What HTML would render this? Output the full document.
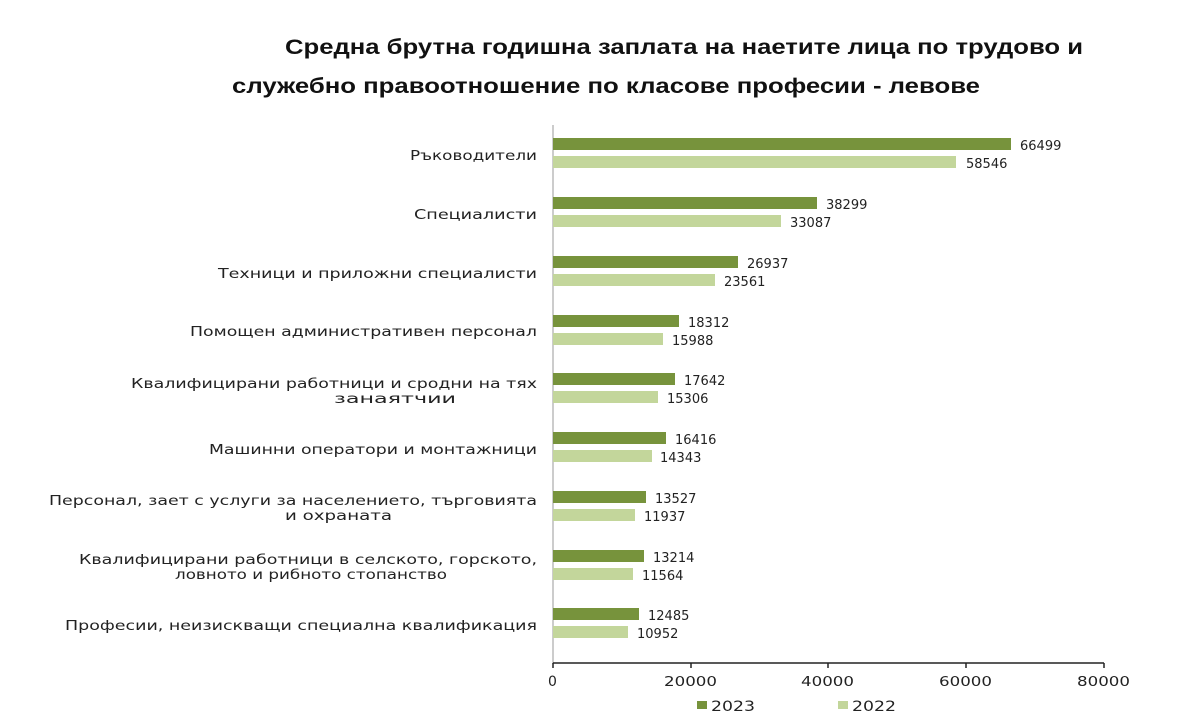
<!DOCTYPE html>
<html><head><meta charset="utf-8"><style>
body{margin:0;background:#fff;width:1200px;height:720px;overflow:hidden}
</style></head><body>
<svg width="1200" height="720" xmlns="http://www.w3.org/2000/svg" font-family="'DejaVu Sans','Liberation Sans',sans-serif">
<text x="285" y="54" textLength="798" lengthAdjust="spacingAndGlyphs" font-family="'Liberation Sans',sans-serif" font-weight="bold" font-size="21" fill="#111">Средна брутна годишна заплата на наетите лица по трудово и</text>
<text x="232" y="93" textLength="748" lengthAdjust="spacingAndGlyphs" font-family="'Liberation Sans',sans-serif" font-weight="bold" font-size="21" fill="#111">служебно правоотношение по класове професии - левове</text>
<line x1="553" y1="125" x2="553" y2="664" stroke="#bbb" stroke-width="1.5"/>
<line x1="553" y1="663" x2="1104" y2="663" stroke="#222" stroke-width="1.5"/>
<g stroke="#222" stroke-width="1.5">
<line x1="553" y1="663" x2="553" y2="668"/><line x1="691" y1="663" x2="691" y2="668"/><line x1="828" y1="663" x2="828" y2="668"/><line x1="966" y1="663" x2="966" y2="668"/><line x1="1104" y1="663" x2="1104" y2="668"/>
</g>
<g font-size="13" fill="#222">
<text x="548" y="686" font-size="14">0</text><text x="664" y="686" textLength="53" lengthAdjust="spacingAndGlyphs">20000</text><text x="801" y="686" textLength="53" lengthAdjust="spacingAndGlyphs">40000</text><text x="939" y="686" textLength="53" lengthAdjust="spacingAndGlyphs">60000</text><text x="1077" y="686" textLength="53" lengthAdjust="spacingAndGlyphs">80000</text>
</g>
<rect x="697" y="701" width="10" height="8" fill="#77933c"/><text x="711" y="711" font-size="14" textLength="44" lengthAdjust="spacingAndGlyphs" fill="#222">2023</text>
<rect x="838" y="701" width="10" height="8" fill="#c3d69b"/><text x="852" y="711" font-size="14" textLength="44" lengthAdjust="spacingAndGlyphs" fill="#222">2022</text>

<g fill="#77933c">
<rect x="553" y="138" width="458" height="12"/>
<rect x="553" y="197" width="264" height="12"/>
<rect x="553" y="256" width="185" height="12"/>
<rect x="553" y="315" width="126" height="12"/>
<rect x="553" y="373" width="122" height="12"/>
<rect x="553" y="432" width="113" height="12"/>
<rect x="553" y="491" width="93" height="12"/>
<rect x="553" y="550" width="91" height="12"/>
<rect x="553" y="608" width="86" height="12"/>
</g>
<g fill="#c3d69b">
<rect x="553" y="156" width="403" height="12"/>
<rect x="553" y="215" width="228" height="12"/>
<rect x="553" y="274" width="162" height="12"/>
<rect x="553" y="333" width="110" height="12"/>
<rect x="553" y="391" width="105" height="12"/>
<rect x="553" y="450" width="99" height="12"/>
<rect x="553" y="509" width="82" height="12"/>
<rect x="553" y="568" width="80" height="12"/>
<rect x="553" y="626" width="75" height="12"/>
</g>
<g font-size="13" fill="#222">
<text x="1020" y="150">66499</text><text x="966" y="168">58546</text>
<text x="826" y="209">38299</text><text x="790" y="227">33087</text>
<text x="747" y="268">26937</text><text x="724" y="286">23561</text>
<text x="688" y="327">18312</text><text x="672" y="345">15988</text>
<text x="684" y="385">17642</text><text x="667" y="403">15306</text>
<text x="675" y="444">16416</text><text x="660" y="462">14343</text>
<text x="655" y="503">13527</text><text x="644" y="521">11937</text>
<text x="653" y="562">13214</text><text x="642" y="580">11564</text>
<text x="648" y="620">12485</text><text x="637" y="638">10952</text>
</g>
<g font-size="13.5" fill="#222">
<text x="410" y="160" textLength="127" lengthAdjust="spacingAndGlyphs">Ръководители</text>
<text x="414" y="219" textLength="123" lengthAdjust="spacingAndGlyphs">Специалисти</text>
<text x="218" y="278" textLength="319" lengthAdjust="spacingAndGlyphs">Техници и приложни специалисти</text>
<text x="190" y="336" textLength="347" lengthAdjust="spacingAndGlyphs">Помощен административен персонал</text>
<text x="131" y="388" textLength="406" lengthAdjust="spacingAndGlyphs">Квалифицирани работници и сродни на тях</text>
<text x="334" y="403" textLength="122" lengthAdjust="spacingAndGlyphs">занаятчии</text>
<text x="209" y="454" textLength="328" lengthAdjust="spacingAndGlyphs">Машинни оператори и монтажници</text>
<text x="49" y="505" textLength="488" lengthAdjust="spacingAndGlyphs">Персонал, зает с услуги за населението, търговията</text>
<text x="285" y="520" textLength="107" lengthAdjust="spacingAndGlyphs">и охраната</text>
<text x="79" y="564" textLength="458" lengthAdjust="spacingAndGlyphs">Квалифицирани работници в селското, горското,</text>
<text x="175" y="579" textLength="272" lengthAdjust="spacingAndGlyphs">ловното и рибното стопанство</text>
<text x="65" y="630" textLength="472" lengthAdjust="spacingAndGlyphs">Професии, неизискващи специална квалификация</text>
</g>
</svg>
</body></html>
